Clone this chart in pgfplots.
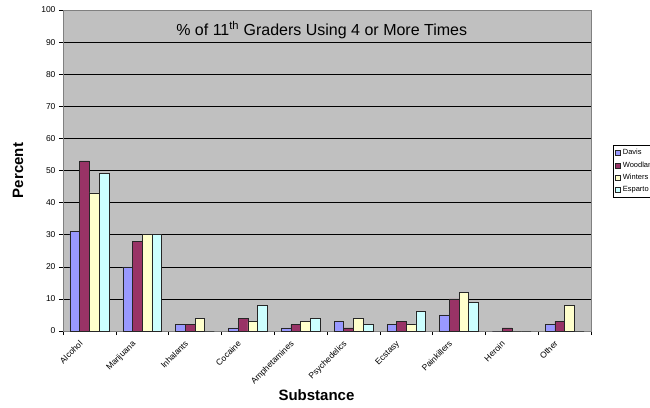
\documentclass[border=0pt]{standalone}
\usepackage{pgfplots}
\pgfplotsset{compat=1.18}
\usepackage{fontspec}
\setmainfont{Liberation Sans}

\definecolor{cDavis}{HTML}{9999FF}
\definecolor{cWoodland}{HTML}{993366}
\definecolor{cWinters}{HTML}{FFFFCC}
\definecolor{cEsparto}{HTML}{CCFFFF}
\definecolor{plotbg}{HTML}{C0C0C0}
\definecolor{framegray}{HTML}{808080}

\begin{document}
\begin{tikzpicture}
\begin{axis}[
  name=ax,
  scale only axis, width=528pt, height=321pt,
  ybar=0pt, bar width=9.7pt,
  xmin=-0.5, xmax=9.5, ymin=0, ymax=100,
  axis background/.style={fill=plotbg},
  axis line style={framegray, line width=0.8pt},
  ytick={0,10,...,100},
  ymajorgrids, major grid style={black, line width=0.6pt},
  xtick={0,...,9},
  xticklabels={Alcohol,Marijuana,Inhalants,Cocaine,Amphetamines,Psychedelics,Ecstasy,Painkillers,Heroin,Other},
  major x tick style={draw=none},
  minor xtick={-0.5,0.5,...,9.5},
  minor x tick style={black, line width=0.6pt},
  minor tick length=4pt,
  major tick length=4pt,
  tick align=outside,
  y tick style={black, line width=0.6pt},
  xtick pos=bottom, ytick pos=left,
  x tick label style={rotate=45, anchor=north east, font=\fontsize{8.5}{9}\selectfont, inner sep=0pt, xshift=-11pt, yshift=4pt},
  y tick label style={font=\fontsize{8.5}{9}\selectfont},
  /pgf/number format/assume math mode=true,
  every axis plot/.append style={draw=black!85, line width=0.5pt},
  legend style={at={(axis description cs:1.042,0.579)}, anchor=north west,
    draw=black, line width=0.5pt, fill=white, font=\fontsize{7.5}{8}\selectfont,
    row sep=1.5pt, inner xsep=2pt, inner ysep=2pt, cells={anchor=west}},
  legend image code/.code={\draw[#1, line width=0.4pt] (0pt,-2.5pt) rectangle (5pt,2.5pt);},
  clip=false,
]
% Davis
\addplot[fill=cDavis] coordinates {(0,31) (1,20) (2,2) (3,1) (4,1) (5,3) (6,2) (7,5) (8,0) (9,2)};
% Woodland
\addplot[fill=cWoodland] coordinates {(0,53) (1,28) (2,2) (3,4) (4,2) (5,1) (6,3) (7,10) (8,1) (9,3)};
% Winters
\addplot[fill=cWinters] coordinates {(0,43) (1,30) (2,4) (3,3) (4,3) (5,4) (6,2) (7,12) (8,0) (9,8)};
% Esparto
\addplot[fill=cEsparto] coordinates {(0,49) (1,30) (2,0) (3,8) (4,4) (5,2) (6,6) (7,9) (8,0) (9,0)};
\legend{Davis,Woodland,Winters,Esparto}
% title inside the plot area, axis titles
\node[font=\fontsize{16}{18}\selectfont] at (axis description cs:0.49,0.938) {\% of 11\textsuperscript{th} Graders Using 4 or More Times};
\node[font=\bfseries\fontsize{15}{17}\selectfont] at (axis description cs:0.48,-0.199) {Substance};
\node[font=\bfseries\fontsize{15}{17}\selectfont, rotate=90] at (axis description cs:-0.085,0.5) {Percent};
\end{axis}
% page frame: 650 x 407 around the plot area, legend runs past the right edge
\pgfresetboundingbox
\path[use as bounding box] (ax.south west) ++(-63pt,-76pt) rectangle ++(650pt,407pt);
\end{tikzpicture}
\end{document}
